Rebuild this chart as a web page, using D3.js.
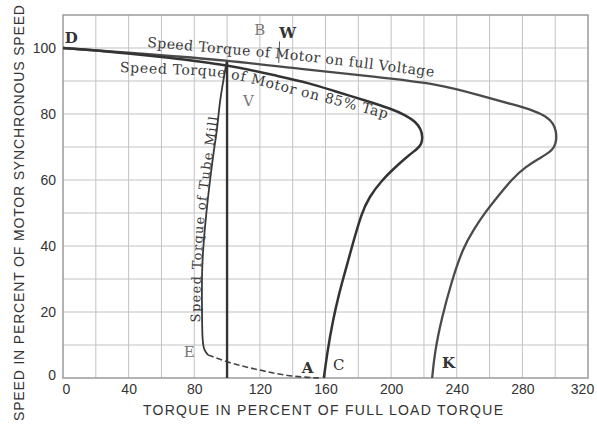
<!DOCTYPE html>
<html><head><meta charset="utf-8">
<script src="https://cdn.jsdelivr.net/npm/d3@7"></script>
<style>body{margin:0;background:#fff}svg{display:block}</style>
</head><body>
<script>
// ---- data (torque % of full load, speed % of synchronous) ----
const xTicks = [0, 40, 80, 120, 160, 200, 240, 280, 320];
const yTicks = [0, 20, 40, 60, 80, 100];
const fullVoltage = [[0,100],[50,98.2],[100,96.3],[145,93.6],[190,91.3],[230,89],[254,85.6],[275,82.8],[287,81],[294.5,79.3],[298.8,77.2],[300.6,74.8],[300.8,72.2],[299.6,70],[296.5,68.3],[290,66.5],[282,64],[274,60.5],[265,55],[257,50],[250,44.7],[244,39.6],[237,29.6],[230.5,17.5],[226.5,7.5],[225,0]];
const tap85 = [[0,100],[50,98],[100,95],[130,91.6],[150,89.4],[165,87],[185,84],[200,81.6],[209,79.6],[215,77.6],[218.2,75.4],[219.2,73],[218.6,71],[216.2,69.5],[211.5,67.8],[204.5,64.8],[194,59.8],[186.5,54.7],[182,50],[176,39.6],[171,30.5],[168.5,26],[164.5,17.5],[161,7.5],[159,0]];
const tubeMill = [[88.4,7],[85.8,8.4],[84.9,12],[84.7,20],[84.6,32],[85.5,40],[87.3,50],[89.6,60],[92.2,70],[93.9,75],[95.6,84],[97.7,90],[99.8,96]];
const tubeMillStart = [[88.4,7],[99.7,4.9],[110,3.5],[120,2.4],[130,1.3],[140,0.5],[150,0.15],[156,0]];
const motorLoadLine = [[100,0],[100,96.3]];
const pointLabels = ["D","B","W","V","E","A","C","K"];
const pointAt = [[5,103],[120,105.5],[137,104.5],[113,84],[77,8],[149,3],[168,4],[235,4.5]];

// ---- layout ----
const W = 597, H = 426;
const x = d3.scaleLinear().domain([0, 320]).range([63, 588]);
const y = d3.scaleLinear().domain([0, 110]).range([378, 15]);

const svg = d3.select("body").append("svg").attr("width", W).attr("height", H);
const defs = svg.append("defs");

// grid
const g = svg.append("g");
g.selectAll(".vg").data(d3.range(20, 320, 20)).join("line")
  .attr("x1", d => x(d)).attr("x2", d => x(d)).attr("y1", y(0)).attr("y2", y(110))
  .attr("stroke", "#c2c2c2").attr("stroke-width", 1);
g.selectAll(".hg").data(d3.range(10, 110, 10)).join("line")
  .attr("y1", d => y(d)).attr("y2", d => y(d)).attr("x1", x(0)).attr("x2", x(320))
  .attr("stroke", "#c2c2c2").attr("stroke-width", 1);
svg.append("rect").attr("x", x(0)).attr("y", y(110)).attr("width", x(320) - x(0)).attr("height", y(0) - y(110))
  .attr("fill", "none").attr("stroke", "#9a9a9a").attr("stroke-width", 1.5);

// axes
const xAxis = svg.append("g").attr("transform", `translate(0,${y(0)})`)
  .call(d3.axisBottom(x).tickValues(xTicks).tickSize(0).tickPadding(6));
const yAxis = svg.append("g").attr("transform", `translate(${x(0)},0)`)
  .call(d3.axisLeft(y).tickValues(yTicks).tickSize(0).tickPadding(7));
[xAxis, yAxis].forEach(a => {
  a.select(".domain").remove();
  a.selectAll("text").attr("font-family", "Liberation Sans, Arial, sans-serif").attr("font-size", 14).attr("fill", "#333");
});
xAxis.selectAll("text").filter(d => d === 320).attr("dx", -6);
xAxis.selectAll("text").filter(d => d === 0).attr("dx", 3);
yAxis.selectAll("text").filter(d => d === 0).attr("dy", "0.1em");

// axis titles
svg.append("text").attr("x", 323).attr("y", 415).attr("text-anchor", "middle")
  .attr("font-family", "Liberation Sans, Arial, sans-serif").attr("font-size", 14).attr("fill", "#333")
  .attr("textLength", 360).attr("lengthAdjust", "spacing")
  .text("TORQUE IN PERCENT OF FULL LOAD TORQUE");
svg.append("text").attr("transform", "translate(24,213) rotate(-90)").attr("text-anchor", "middle")
  .attr("font-family", "Liberation Sans, Arial, sans-serif").attr("font-size", 14).attr("fill", "#333")
  .attr("textLength", 416).attr("lengthAdjust", "spacing")
  .text("SPEED IN PERCENT OF MOTOR SYNCHRONOUS SPEED");

// curves
const line = d3.line().x(d => x(d[0])).y(d => y(d[1])).curve(d3.curveBasis);
svg.append("path").attr("d", line(tubeMillStart)).attr("fill", "none")
  .attr("stroke", "#444").attr("stroke-width", 1.6).attr("stroke-dasharray", "6,3");
svg.append("path").attr("d", line(tubeMill)).attr("fill", "none")
  .attr("stroke", "#3a3a3a").attr("stroke-width", 1.8);
svg.append("path").attr("d", d3.line().x(d => x(d[0])).y(d => y(d[1]))(motorLoadLine)).attr("fill", "none")
  .attr("stroke", "#333").attr("stroke-width", 2.4);
svg.append("path").attr("d", line(fullVoltage)).attr("fill", "none")
  .attr("stroke", "#4a4a4a").attr("stroke-width", 2.3);
svg.append("path").attr("d", line(tap85)).attr("fill", "none")
  .attr("stroke", "#333").attr("stroke-width", 2.5);
// pointer to W
svg.append("line").attr("x1", x(132)).attr("y1", y(102)).attr("x2", x(131.5)).attr("y2", y(95.5))
  .attr("stroke", "#555").attr("stroke-width", 1);

// curve labels along paths
const lp = d3.line().x(d => x(d[0])).y(d => y(d[1])).curve(d3.curveCatmullRom.alpha(0.5));
function pathLabel(id, pts, txt, len, size, color) {
  defs.append("path").attr("id", id).attr("d", lp(pts));
  svg.append("text").attr("font-family", "DejaVu Serif, Liberation Serif, serif").attr("font-size", size)
    .attr("fill", color)
    .append("textPath").attr("href", "#" + id).attr("textLength", len).attr("lengthAdjust", "spacing")
    .text(txt);
}
pathLabel("lblFull", [[51.2,100.3],[140,96.4],[227.4,91.2]], "Speed Torque of Motor on full Voltage", 288, 14, "#3a3a3a");
pathLabel("lbl85", [[34.7,92.7],[65.2,92.1],[96.9,91.1],[144.5,85.5],[200.5,78.2]], "Speed Torque of Motor on 85% Tap", 272, 14, "#3a3a3a");
pathLabel("lblTube", [[83.5,16.9],[85.5,45],[94.5,79]], "Speed Torque of Tube Mill", 206, 13, "#3a3a3a");

// point letters
svg.selectAll(".pt").data(pointLabels).join("text")
  .attr("x", (d, i) => x(pointAt[i][0])).attr("y", (d, i) => y(pointAt[i][1]))
  .attr("text-anchor", "middle").attr("dy", "0.35em")
  .attr("font-family", "DejaVu Serif, Liberation Serif, serif").attr("font-size", 15)
  .attr("font-weight", (d) => "DWAK".includes(d) ? "bold" : "normal")
  .attr("fill", d => "BVE".includes(d) ? "#777" : "#333")
  .text(d => d);
</script>
</body></html>
